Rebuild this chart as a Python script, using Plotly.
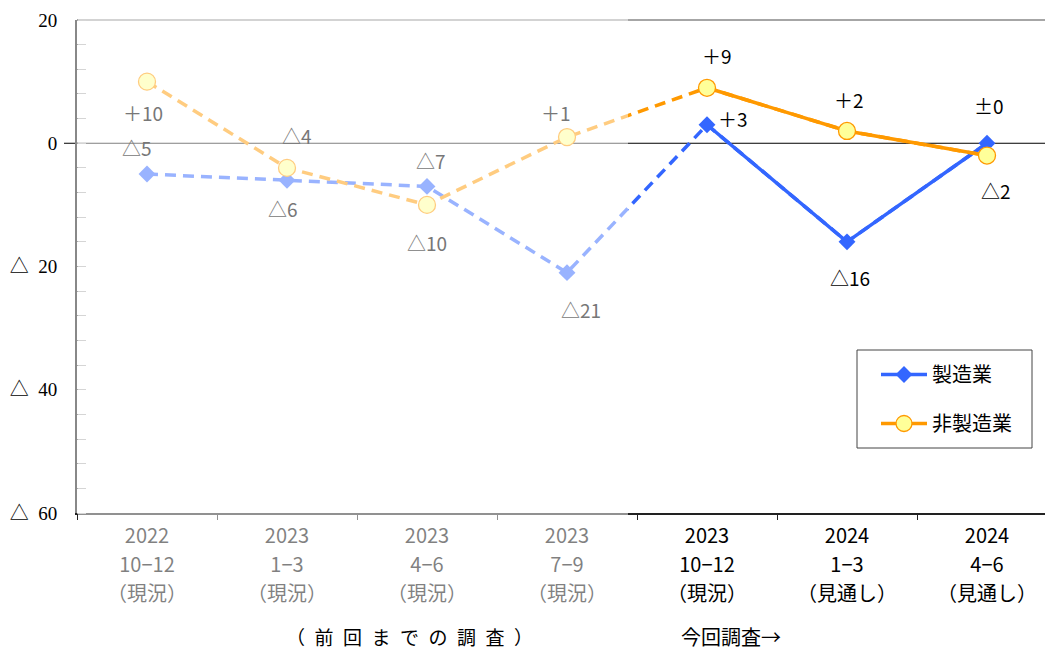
import plotly.graph_objects as go

# Quarter labels, one list per printed line
years = ["2022", "2023", "2023", "2023", "2023", "2024", "2024"]
months = ["10−12", "1−3", "4−6", "7−9", "10−12", "1−3", "4−6"]
status = ["（現況）", "（現況）", "（現況）", "（現況）", "（現況）", "（見通し）", "（見通し）"]
categories = [f"{y} {m} {s}" for y, m, s in zip(years, months, status)]

manufacturing = [-5, -6, -7, -21, 3, -16, 0]
non_manufacturing = [10, -4, -10, 1, 9, 2, -2]

y_tickvals = [20, 0, -20, -40, -60]
y_ticktext = ["20", "0", "△  20", "△  40", "△  60"]

# first index belonging to the current survey
current_start = 4

BLUE = "#3366FF"
ORANGE = "#FF9900"
CJK = "Noto Sans CJK JP, Noto Sans, sans-serif"
SERIF = "Liberation Serif, Noto Sans CJK JP, serif"

W, H = 1045, 650
ML, MT, MB = 77, 20, 137
PW = W - ML
PH = H - MT - MB
CAT_PX = 140
X_RANGE = [-0.5, -0.5 + PW / CAT_PX]


def px_x(p):
    return (p - ML) / PW


def px_y(p):
    return 1 - (p - MT) / PH


def fmt(v):
    if v > 0:
        return f"＋{v}"
    if v < 0:
        return f"△{-v}"
    return "±0"


fig = go.Figure()


def add_series(name, values, color, marker, group):
    # dashed connection through every quarter (solid part overdraws it)
    fig.add_trace(go.Scatter(
        x=categories, y=values, mode="lines",
        line=dict(color=color, width=3.5, dash="11px,7px"),
        showlegend=False, hoverinfo="skip", legendgroup=group,
    ))
    # current survey: solid line with markers
    fig.add_trace(go.Scatter(
        x=categories[current_start:], y=values[current_start:],
        mode="lines+markers", name=name, legendgroup=group,
        line=dict(color=color, width=3.5), marker=marker,
    ))
    # previous surveys: markers only
    fig.add_trace(go.Scatter(
        x=categories[:current_start], y=values[:current_start],
        mode="markers", showlegend=False, legendgroup=group, marker=marker,
    ))


add_series("製造業", manufacturing, BLUE,
           dict(symbol="diamond", size=13, color=BLUE, line=dict(width=0)), "m")
add_series("非製造業", non_manufacturing, ORANGE,
           dict(symbol="circle", size=17, color="#FFFF99",
                line=dict(color=ORANGE, width=1.3)), "n")

# empty placeholders so the overlaid label axes get a subplot
for axis_ref in ("x2", "x3"):
    fig.add_trace(go.Scatter(
        x=[None], y=[None], xaxis=axis_ref, yaxis="y", mode="markers",
        showlegend=False, hoverinfo="skip",
    ))

# value labels: (xshift, yshift) per point
m_shift = [(-10, 27), (-4, -28), (4, 26), (14, -37), (26, 6), (3, -36), (2, 38)]
n_shift = [(-4, -31), (10, 32), (0, -38), (-11, 25), (10, 32), (2, 31), (9, -35)]

annotations = []
for vals, shifts in ((manufacturing, m_shift), (non_manufacturing, n_shift)):
    for i, (v, (dx, dy)) in enumerate(zip(vals, shifts)):
        annotations.append(dict(
            x=categories[i], y=v, text=fmt(v), showarrow=False,
            xshift=dx, yshift=dy,
            font=dict(family=CJK, size=19,
                      color="#777777" if i < current_start else "#000000"),
        ))

annotations.append(dict(
    x=px_x(409), y=px_y(636), xref="paper", yref="paper", yanchor="middle",
    text="（\u2002前\u2002回\u2002ま\u2002で\u2002の\u2002調\u2002査\u2002）",
    showarrow=False,
    font=dict(family=CJK, size=19, color="#000000"),
))
annotations.append(dict(
    x=px_x(679), y=px_y(636), xref="paper", yref="paper",
    xanchor="left", yanchor="middle",
    text="今回調査→", showarrow=False,
    font=dict(family=CJK, size=20, color="#000000"),
))

shapes = [
    # zero line, extended left of the axis
    dict(type="line", xref="paper", yref="y", x0=px_x(64), x1=1, y0=0, y1=0,
         line=dict(color="#000000", width=1), layer="below"),
    # top frame line
    dict(type="line", xref="paper", yref="paper", x0=0, x1=1, y0=1, y1=1,
         line=dict(color="#888888", width=1.5), layer="below"),
    # whitening veil over the earlier surveys
    dict(type="rect", xref="paper", yref="paper",
         x0=px_x(78), x1=px_x(628), y0=px_y(610), y1=px_y(14),
         fillcolor="rgba(255,255,255,0.5)", line=dict(width=0), layer="above"),
    # legend box
    dict(type="rect", xref="paper", yref="paper",
         x0=px_x(857), x1=px_x(1032), y0=px_y(448), y1=px_y(350),
         fillcolor="#FFFFFF", line=dict(color="#444444", width=1), layer="above"),
]

fig.update_layout(
    width=W, height=H,
    margin=dict(l=ML, r=0, t=MT, b=MB, pad=0),
    paper_bgcolor="#FFFFFF", plot_bgcolor="rgba(0,0,0,0)",
    showlegend=True,
    legend=dict(
        x=px_x(876), y=px_y(355), xanchor="left", yanchor="top",
        bgcolor="rgba(0,0,0,0)", borderwidth=0,
        font=dict(family=CJK, size=20, color="#000000"),
        traceorder="grouped", tracegroupgap=20, itemwidth=46,
    ),
    annotations=annotations,
    shapes=shapes,
)

tick_font = dict(family=CJK, size=20, color="#000000")

# first label line (year) on the category axis, which also carries the ticks
fig.update_layout(xaxis=dict(
    type="category", range=X_RANGE,
    tickmode="array", tickvals=categories, ticktext=years,
    showline=True, linecolor="#222222", linewidth=1.5,
    ticks="outside", ticklen=5, tickcolor="#222222", tickson="boundaries",
    showgrid=False, zeroline=False, tickfont=tick_font, ticklabelstandoff=4,
))
# second and third label lines on overlaid axes sharing the same span
for axis_name, texts, standoff in (("xaxis2", months, 38), ("xaxis3", status, 67)):
    fig.update_layout({axis_name: dict(
        overlaying="x", anchor="y", side="bottom", type="linear", range=X_RANGE,
        tickmode="array", tickvals=list(range(len(texts))), ticktext=texts,
        showline=False, ticks="", showgrid=False, zeroline=False,
        tickfont=tick_font, ticklabelstandoff=standoff,
    )})

fig.update_yaxes(
    range=[-60, 20], tickmode="array", tickvals=y_tickvals, ticktext=y_ticktext,
    showline=True, linecolor="#888888", linewidth=2,
    ticks="", showgrid=False, zeroline=False,
    tickfont=dict(family=SERIF, size=19, color="#000000"),
    ticklabelstandoff=14,
    minor=dict(ticks="inside", dtick=4, ticklen=9, tickcolor="#AAAAAA", tickwidth=1),
)

fig.write_html("out.html")
